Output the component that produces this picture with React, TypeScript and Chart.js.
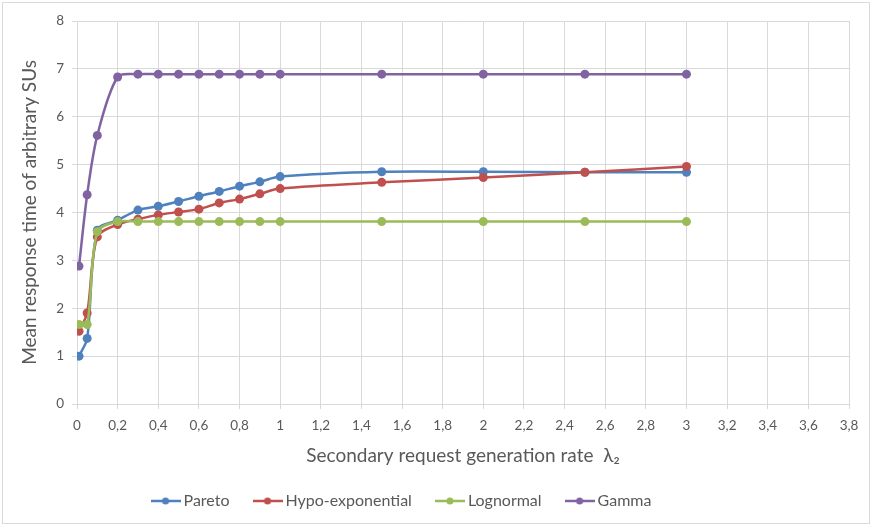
import React, { useEffect, useRef } from "react";
import { Chart, registerables } from "chart.js";

Chart.register(...registerables);

const xValues = [0.01, 0.05, 0.1, 0.2, 0.3, 0.4, 0.5, 0.6, 0.7, 0.8, 0.9, 1, 1.5, 2, 2.5, 3];
const pareto = [1.0, 1.37, 3.63, 3.84, 4.05, 4.13, 4.23, 4.34, 4.44, 4.55, 4.64, 4.75, 4.85, 4.85, 4.84, 4.84];
const hypoExponential = [1.52, 1.9, 3.49, 3.75, 3.86, 3.95, 4.01, 4.07, 4.2, 4.28, 4.39, 4.5, 4.63, 4.73, 4.84, 4.96];
const lognormal = [1.66, 1.66, 3.6, 3.81, 3.81, 3.81, 3.81, 3.81, 3.81, 3.81, 3.81, 3.81, 3.81, 3.81, 3.81, 3.81];
const gamma = [2.88, 4.37, 5.61, 6.83, 6.89, 6.89, 6.89, 6.89, 6.89, 6.89, 6.89, 6.89, 6.89, 6.89, 6.89, 6.89];

const seriesNames = ["Pareto", "Hypo-exponential", "Lognormal", "Gamma"];
const seriesColors = ["#4F81BD", "#C0504D", "#9BBB59", "#8064A2"];
const seriesValues = [pareto, hypoExponential, lognormal, gamma];

const xTitle = "Secondary request generation rate  \u03BB\u2082";
const yTitle = "Mean response time of arbitrary SUs";

const FONT = "Lato, 'Open Sans', sans-serif";
const TEXT = "#595959";
const GRID = "#d9d9d9";

function legendMarker(color: string): HTMLCanvasElement {
  const c = document.createElement("canvas");
  c.width = 30;
  c.height = 10;
  const ctx = c.getContext("2d")!;
  ctx.strokeStyle = color;
  ctx.lineWidth = 2.5;
  ctx.beginPath();
  ctx.moveTo(0, 5);
  ctx.lineTo(30, 5);
  ctx.stroke();
  ctx.fillStyle = color;
  ctx.beginPath();
  ctx.arc(15, 5, 3.5, 0, Math.PI * 2);
  ctx.fill();
  return c;
}

const legendShift = {
  id: "legendShift",
  afterLayout(chart: any) {
    const lg = chart.legend;
    if (!lg) return;
    const dx = -21;
    lg.left += dx;
    lg.right += dx;
  },
};

export default function App() {
  const ref = useRef<HTMLCanvasElement>(null);

  useEffect(() => {
    if (!ref.current) return;
    const markers = seriesColors.map(legendMarker);
    const chart = new Chart(ref.current, {
      type: "line",
      data: {
        datasets: seriesNames.map((name, i) => ({
          label: name,
          data: xValues.map((x, j) => ({ x, y: seriesValues[i][j] })),
          borderColor: seriesColors[i],
          backgroundColor: seriesColors[i],
          borderWidth: 2.5,
          pointRadius: 4.5,
          pointHoverRadius: 4.5,
          pointBorderWidth: 0,
          tension: 0.3,
          fill: false,
          order: seriesNames.length - i,
        })),
      },
      plugins: [legendShift],
      options: {
        animation: false,
        responsive: false,
        maintainAspectRatio: false,
        layout: { padding: { left: 0, right: 25, top: 21, bottom: 10 } },
        plugins: {
          tooltip: { enabled: false },
          legend: {
            position: "bottom",
            labels: {
              usePointStyle: true,
              pointStyleWidth: 20,
              padding: 28,
              color: TEXT,
              font: { family: FONT, size: 16 },
              generateLabels: () =>
                seriesNames.map((name, i) => ({
                  text: name,
                  fillStyle: seriesColors[i],
                  strokeStyle: seriesColors[i],
                  lineWidth: 0,
                  pointStyle: markers[i] as any,
                  hidden: false,
                  datasetIndex: i,
                  fontColor: TEXT,
                })),
            },
          },
        },
        scales: {
          x: {
            type: "linear",
            min: 0,
            max: 3.8,
            ticks: {
              stepSize: 0.2,
              color: TEXT,
              font: { family: FONT, size: 13.5 },
              maxRotation: 0,
              autoSkip: false,
              padding: 9,
              callback: (v: any) => String(Number(Number(v).toFixed(1))).replace(".", ","),
            },
            grid: { color: GRID, lineWidth: 1, tickLength: 5 },
            border: { color: GRID },
            title: {
              display: true,
              text: xTitle,
              color: TEXT,
              font: { family: FONT, size: 19 },
              padding: { top: 1, bottom: -2 },
            },
          },
          y: {
            type: "linear",
            min: 0,
            max: 8,
            ticks: {
              stepSize: 1,
              color: TEXT,
              font: { family: FONT, size: 13.5 },
              padding: 8,
            },
            grid: { color: GRID, lineWidth: 1, tickLength: 5 },
            border: { color: GRID },
            title: {
              display: true,
              text: yTitle,
              color: TEXT,
              font: { family: FONT, size: 19 },
              padding: { top: 18, bottom: 0 },
            },
            afterFit: (scale: any) => {
              scale.width = 77;
            },
          },
        },
      },
    });
    return () => chart.destroy();
  }, []);

  return (
    <div
      style={{
        position: "fixed",
        left: 0,
        top: 0,
        width: 874,
        height: 529,
        background: "#fff",
      }}
    >
      <div
        style={{
          position: "absolute",
          left: 2,
          top: 2,
          width: 868,
          height: 522,
          border: "1px solid #d9d9d9",
          boxSizing: "border-box",
          pointerEvents: "none",
        }}
      />
      <canvas ref={ref} width={874} height={529} style={{ display: "block" }} />
    </div>
  );
}
